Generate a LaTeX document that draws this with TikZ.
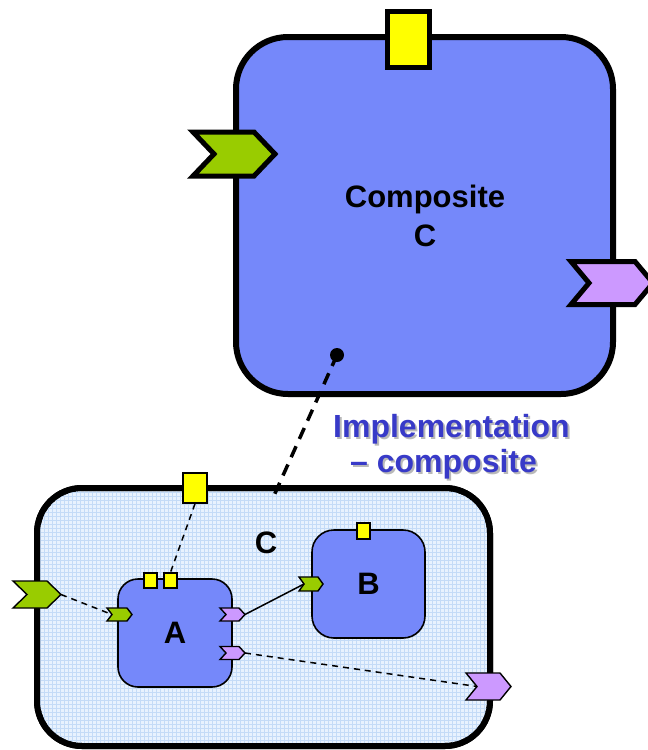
\documentclass[tikz,border=0pt]{standalone}
\usepackage{fontspec}
\setmainfont{Liberation Sans}

\definecolor{compblue}{RGB}{117,136,250}
\definecolor{portgreen}{RGB}{153,204,0}
\definecolor{portpurple}{RGB}{204,153,255}
\definecolor{portyellow}{RGB}{255,255,0}
\definecolor{sysfill}{RGB}{232,242,254}
\definecolor{sysgrid}{RGB}{196,219,247}
\definecolor{labelblue}{RGB}{56,58,200}
\definecolor{shadowgray}{RGB}{185,185,185}

% chevron port: #1 style, #2 name, #3 left x, #4 middle y,
% #5 body width, #6 half height, #7 point depth
\newcommand\chevron[7]{%
  \draw[#1] (#3,{#4-#6}) -- ({#3+#5},{#4-#6}) -- ({#3+#5+#7},#4)
    -- ({#3+#5},{#4+#6}) -- (#3,{#4+#6}) -- ({#3+#7},#4) -- cycle;
  \coordinate (#2-in) at ({#3+#7},#4);
  \coordinate (#2-out) at ({#3+#5+#7},#4);
}

% text with a grey drop shadow offset 2pt right and down
\newcommand\shadowtext[1]{%
  \makebox[0pt][l]{\kern2pt\raisebox{-2pt}{\textcolor{shadowgray}{#1}}}#1}

\tikzset{
  bigbox/.style={draw, fill=compblue, line width=6pt, inner sep=0pt},
  smallbox/.style={draw, fill=compblue, line width=1.6pt, inner sep=0pt},
  yport/.style={draw, fill=portyellow, inner sep=0pt},
  bigport/.style={draw, line width=5pt, line join=miter},
  smallport/.style={draw, line width=1.4pt, line join=miter},
  boxtext/.style={font=\fontsize{31}{39}\selectfont\bfseries, align=center},
  implfont/.style={font=\fontsize{32}{38}\selectfont\bfseries, anchor=base west,
    inner sep=0pt, text=labelblue},
  wiredash/.style={line width=1.5pt, dash pattern=on 6pt off 5pt},
  wire/.style={line width=1.5pt},
  promote/.style={line width=3.5pt, dash pattern=on 12pt off 8pt},
}

\begin{document}
\begin{tikzpicture}[x=1pt, y=-1pt]
\useasboundingbox (0,0) rectangle (648,750);

% ---- composite C (outer view) ----
\node[bigbox, rounded corners=52pt, minimum width=377pt, minimum height=357pt]
  (comp) at (424.5,215.5) {};
\node[boxtext] (comptext) at (425,215.5) {Composite\\C};
\node[yport, line width=5pt, minimum width=42pt, minimum height=56pt]
  (compY) at (408,39) {};
\chevron{bigport, fill=portgreen}{compG}{193}{154}{61}{22}{21}
\chevron{bigport, fill=portpurple}{compP}{571}{283}{64}{21.5}{18}
\node[circle, fill=black, inner sep=0pt, minimum size=14pt] (impl) at (337,355) {};

% ---- implementation of C ----
\node[draw, fill=sysfill, line width=6pt, rounded corners=45pt, inner sep=0pt,
  minimum width=453pt, minimum height=258pt] (sys) at (263.5,617) {};
\begin{scope}
  \clip[rounded corners=45pt] (37,488) rectangle (490,746);
  \draw[sysgrid, line width=0.45pt, step=4pt] (37,488) grid (490,746);
\end{scope}
\draw[line width=6pt, rounded corners=45pt] (37,488) rectangle (490,746);
\node[boxtext] (systext) at (266,543) {C};

\node[yport, line width=1.5pt, minimum width=24pt, minimum height=30pt]
  (sysY) at (195,488) {};
\chevron{smallport, fill=portgreen}{sysG}{13}{594.5}{34}{13.5}{14}
\chevron{smallport, fill=portpurple}{sysP}{466}{686.5}{34}{13.5}{11}

% component A
\node[smallbox, rounded corners=20pt, minimum width=114pt, minimum height=108pt,
  boxtext] (A) at (175,633) {A};
\node[yport, line width=1.4pt, minimum width=13pt, minimum height=15pt]
  (aY1) at (150.5,580.5) {};
\node[yport, line width=1.4pt, minimum width=13pt, minimum height=15pt]
  (aY2) at (170.5,580.5) {};
\chevron{smallport, fill=portgreen}{aG}{107}{614.5}{20}{6.5}{5}
\chevron{smallport, fill=portpurple}{aP1}{220}{614.5}{19}{6.5}{6}
\chevron{smallport, fill=portpurple}{aP2}{220}{653}{19}{6.5}{6}

% component B
\node[smallbox, rounded corners=22pt, minimum width=113pt, minimum height=108pt,
  boxtext] (B) at (368.5,584) {B};
\node[yport, line width=1.4pt, minimum width=13pt, minimum height=16pt]
  (bY) at (363.5,531) {};
\chevron{smallport, fill=portgreen}{bG}{299}{584}{19}{7}{5}

% ---- connectors ----
\coordinate (implend) at (272,500);
\draw[promote] (impl.center) -- (implend);
\draw[wiredash] (sysY.south) -- (aY2.north);
\draw[wiredash] (sysG-out) -- (aG-in);
\draw[wire] (aP1-out) -- (bG-in);
\draw[wiredash] (aP2-out) -- (sysP-in);

% ---- caption ----
\node[implfont] (impl1) at (333,437) {\shadowtext{Implementation}};
\node[implfont] (impl2) at (350,472) {\shadowtext{– composite}};
\end{tikzpicture}
\end{document}
